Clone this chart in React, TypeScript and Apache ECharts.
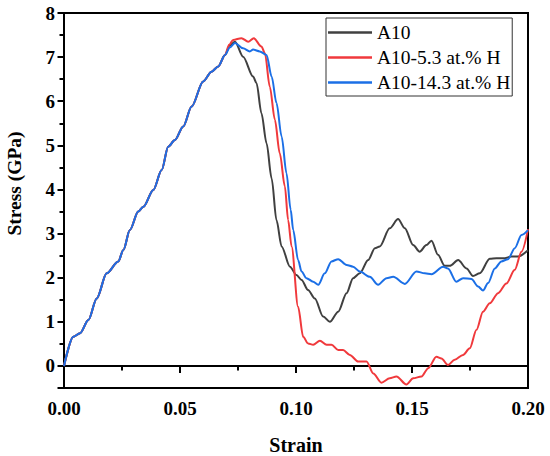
import React, { useEffect, useRef } from "react";
import * as echarts from "echarts";

// Common loading part (all three curves overlap here)
const riseStrain = [0, 0.004, 0.0069, 0.0105, 0.0141, 0.0184, 0.0234, 0.0256, 0.0284, 0.032, 0.0342, 0.0385, 0.0421, 0.0449, 0.0478, 0.0514, 0.055, 0.06, 0.0636, 0.0665, 0.0694];
const riseStress = [0, 0.66, 0.74, 1.04, 1.53, 2.1, 2.37, 2.63, 3.08, 3.5, 3.61, 3.99, 4.44, 4.97, 5.12, 5.43, 5.88, 6.45, 6.67, 6.79, 7.05];

// A10
const a10Strain = [0.0715, 0.0737, 0.0772, 0.0815, 0.083, 0.0851, 0.0873, 0.0895, 0.0916, 0.0938, 0.0974, 0.1002, 0.1024, 0.1052, 0.1081, 0.1117, 0.1146, 0.1182, 0.1218, 0.1246, 0.1275, 0.1311, 0.134, 0.1361, 0.1404, 0.144, 0.1469, 0.1505, 0.1533, 0.1562, 0.1584, 0.1612, 0.1641, 0.1663, 0.1699, 0.1735, 0.1763, 0.1792, 0.1835, 0.1864, 0.19, 0.1928, 0.1957, 0.2];
const a10Stress = [7.27, 7.35, 7.01, 6.56, 6.41, 5.73, 5.05, 4.25, 3.3, 2.71, 2.25, 2.06, 1.95, 1.72, 1.53, 1.12, 1.0, 1.23, 1.65, 1.99, 2.1, 2.4, 2.67, 2.71, 3.12, 3.33, 3.12, 2.74, 2.59, 2.74, 2.84, 2.52, 2.27, 2.27, 2.4, 2.21, 2.04, 2.1, 2.43, 2.44, 2.44, 2.48, 2.48, 2.62];

// A10-5.3 at.% H
const h53Strain = [0.0712, 0.0729, 0.0765, 0.0794, 0.0818, 0.0851, 0.0866, 0.0887, 0.0909, 0.093, 0.0952, 0.0966, 0.0981, 0.1009, 0.1031, 0.1052, 0.1074, 0.1103, 0.1132, 0.1153, 0.1182, 0.1203, 0.1232, 0.1268, 0.1304, 0.1333, 0.1368, 0.1404, 0.1433, 0.1476, 0.1505, 0.1541, 0.157, 0.1605, 0.1627, 0.1655, 0.1684, 0.172, 0.1749, 0.1778, 0.1806, 0.1835, 0.1871, 0.1907, 0.1943, 0.1972, 0.2];
const h53Stress = [7.28, 7.39, 7.43, 7.35, 7.43, 7.24, 7.09, 6.33, 5.58, 4.82, 4.07, 3.31, 2.71, 1.34, 0.66, 0.51, 0.48, 0.57, 0.48, 0.48, 0.36, 0.36, 0.25, 0.1, 0.1, -0.17, -0.38, -0.28, -0.24, -0.42, -0.28, -0.24, -0.05, 0.21, 0.17, 0.02, 0.14, 0.25, 0.4, 0.82, 1.23, 1.42, 1.65, 1.87, 2.18, 2.59, 3.1];

// A10-14.3 at.% H
const h143Strain = [0.0715, 0.0737, 0.0772, 0.0801, 0.0815, 0.0844, 0.0873, 0.0895, 0.0916, 0.0938, 0.0959, 0.0977, 0.0988, 0.1009, 0.1024, 0.1045, 0.1074, 0.1096, 0.1124, 0.1153, 0.1182, 0.1218, 0.1246, 0.1275, 0.1318, 0.1354, 0.139, 0.1419, 0.1469, 0.1519, 0.1555, 0.1584, 0.1634, 0.1655, 0.1691, 0.172, 0.1756, 0.1785, 0.1806, 0.1828, 0.1857, 0.1885, 0.1914, 0.1943, 0.1972, 0.2];
const h143Stress = [7.22, 7.32, 7.2, 7.13, 7.17, 7.13, 7.05, 6.56, 5.96, 5.2, 4.37, 3.54, 3.08, 2.4, 2.14, 1.99, 1.91, 1.84, 2.1, 2.37, 2.42, 2.29, 2.25, 2.14, 2.02, 1.84, 1.99, 2.02, 1.86, 2.14, 2.1, 2.08, 2.25, 2.21, 1.91, 1.99, 1.97, 1.8, 1.71, 1.88, 2.21, 2.37, 2.42, 2.67, 2.97, 3.08];

const seriesNames = ["A10", "A10-5.3 at.% H", "A10-14.3 at.% H"];
const seriesColors = ["#404040", "#f0393c", "#1b6fe6"];

const xTicks = { min: 0, max: 0.2, step: 0.05 };
const yTicks = { min: -0.5, max: 8, step: 1, minor: 0.5 };

const FONT = "'Liberation Serif', 'Times New Roman', serif";

function build(strain: number[], stress: number[]) {
  const rise = riseStrain.map((s, i) => [s, riseStress[i]]);
  return rise.concat(strain.map((s, i) => [s, stress[i]]));
}

export default function App() {
  const ref = useRef<HTMLDivElement>(null);
  useEffect(() => {
    if (!ref.current) return;
    const chart = echarts.init(ref.current, null, { renderer: "svg" });
    const datas = [
      build(a10Strain, a10Stress),
      build(h53Strain, h53Stress),
      build(h143Strain, h143Stress),
    ];
    const gridPos = { left: 64, right: 22, top: 13, bottom: 68 };
    const option: any = {
      animation: false,
      backgroundColor: "#ffffff",
      grid: [
        { ...gridPos, show: true, borderColor: "#000", borderWidth: 2, backgroundColor: "transparent" },
        { ...gridPos, show: false },
      ],
      xAxis: [
        {
          type: "value",
          gridIndex: 0,
          min: xTicks.min,
          max: xTicks.max,
          interval: xTicks.step,
          axisLine: { show: true, lineStyle: { color: "#000", width: 2 } },
          axisTick: { show: true, inside: false, length: 7, lineStyle: { color: "#000", width: 2 } },
          minorTick: { show: true, splitNumber: 2, length: 4.5, lineStyle: { color: "#000", width: 2 } },
          splitLine: { show: false },
          axisLabel: {
            margin: 11,
            fontFamily: FONT,
            fontWeight: "bold",
            fontSize: 19,
            color: "#000",
            formatter: (v: number) => v.toFixed(2),
          },
        },
        {
          type: "value",
          gridIndex: 1,
          min: xTicks.min,
          max: xTicks.max,
          show: false,
        },
      ],
      yAxis: [
        {
          type: "value",
          gridIndex: 0,
          min: yTicks.min,
          max: yTicks.max,
          interval: yTicks.minor,
          axisLine: { show: true, lineStyle: { color: "#000", width: 2 } },
          axisTick: { show: true, inside: false, length: 4.5, lineStyle: { color: "#000", width: 2 } },
          splitLine: { show: false },
          axisLabel: { show: false },
        },
        {
          type: "value",
          gridIndex: 1,
          min: yTicks.min,
          max: yTicks.max,
          minInterval: yTicks.step,
          maxInterval: yTicks.step,
          splitNumber: 8,
          axisLine: { show: false },
          axisTick: { show: true, inside: false, length: 6.5, lineStyle: { color: "#000", width: 2 } },
          splitLine: { show: false },
          axisLabel: {
            margin: 9,
            fontFamily: FONT,
            fontWeight: "bold",
            fontSize: 19,
            color: "#000",
            formatter: (v: number) => (Number.isInteger(v) ? String(v) : ""),
          },
        },
      ],
      legend: {
        orient: "vertical",
        left: 326,
        top: 18,
        data: seriesNames,
        icon: "rect",
        itemWidth: 44,
        itemHeight: 2.5,
        itemGap: 5,
        padding: [4.5, 2, 3.5, 2],
        borderColor: "#333",
        borderWidth: 1,
        backgroundColor: "#fff",
        textStyle: { fontFamily: FONT, fontSize: 19.5, lineHeight: 19, color: "#000" },
      },
      graphic: [
        {
          type: "text",
          x: 14,
          y: 183.5,
          rotation: Math.PI / 2,
          style: {
            text: "Stress (GPa)",
            font: `bold 19.5px ${FONT}`,
            fill: "#000",
            textAlign: "center",
            textVerticalAlign: "middle",
          },
        },
        {
          type: "text",
          x: 296,
          y: 445,
          style: {
            text: "Strain",
            font: `bold 20px ${FONT}`,
            fill: "#000",
            textAlign: "center",
            textVerticalAlign: "middle",
          },
        },
      ],
      series: seriesNames.map((name, i) => ({
        name,
        type: "line",
        xAxisIndex: 0,
        yAxisIndex: 0,
        data: datas[i],
        color: seriesColors[i],
        showSymbol: false,
        symbol: "none",
        smooth: 0.3,
        smoothMonotone: "x",
        lineStyle: { color: seriesColors[i], width: 2 },
        z: 2 + i,
      })),
    };
    chart.setOption(option);
    return () => chart.dispose();
  }, []);
  return (
    <div
      ref={ref}
      style={{ position: "fixed", left: 0, top: 0, width: 550, height: 456 }}
    />
  );
}
